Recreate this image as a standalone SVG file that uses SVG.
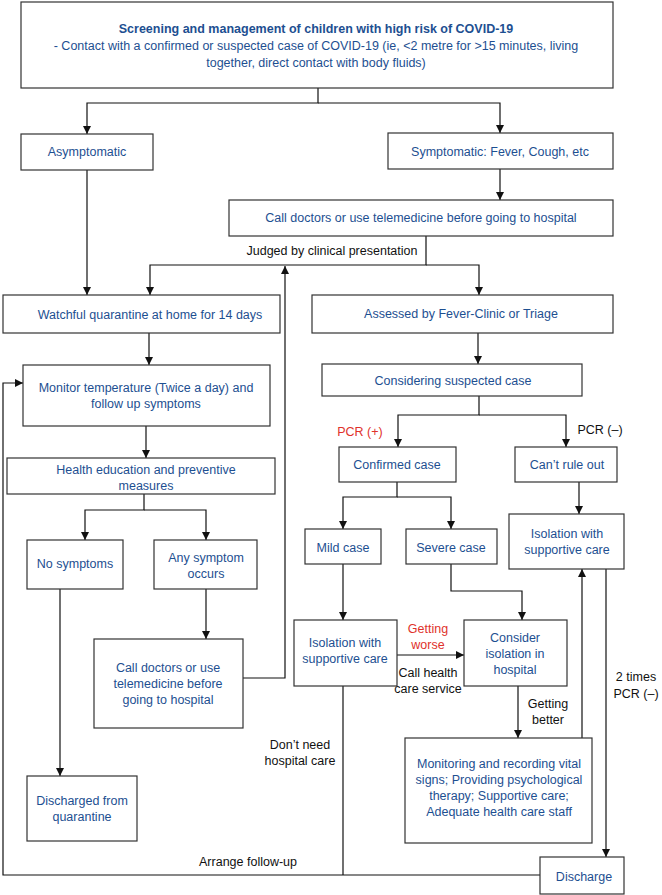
<svg xmlns="http://www.w3.org/2000/svg" width="662" height="895" viewBox="0 0 662 895">
<style>
.box{fill:#fff;stroke:#333;stroke-width:1.2}
.t{font-family:"Liberation Sans",Arial,Helvetica,sans-serif;font-size:12.5px;fill:#1d4f91;text-anchor:middle}
.b{font-weight:bold}
.lbl{font-family:"Liberation Sans",Arial,Helvetica,sans-serif;font-size:12.5px;fill:#111;text-anchor:middle}
.red{fill:#e0322b}
.c{fill:none;stroke:#111;stroke-width:1.2}
.a{marker-end:url(#arr)}
</style>
<defs>
<marker id="arr" viewBox="0 0 10 10" refX="10" refY="5" markerWidth="8" markerHeight="9" markerUnits="userSpaceOnUse" orient="auto">
<path d="M0,0 L10,5 L0,10 z" fill="#111"/>
</marker>
</defs>
<rect width="662" height="895" fill="#fff"/>
<g id="connectors">
<path class="c a" d="M318,88 V103 H87 V134"/>
<path class="c a" d="M318,103 H500 V133"/>
<path class="c a" d="M87,170 V295"/>
<path class="c a" d="M500,169 V200"/>
<path class="c a" d="M426,236 V265 H150 V295"/>
<path class="c a" d="M426,265 H479 V295"/>
<path class="c a" d="M149,333 V365"/>
<path class="c a" d="M146,426 V458"/>
<path class="c a" d="M144,494 V510 H85 V540"/>
<path class="c a" d="M144,510 H206 V540"/>
<path class="c a" d="M60,589 V776"/>
<path class="c a" d="M206,589 V639"/>
<path class="c a" d="M243,678 H285 V266"/>
<path class="c a" d="M478,333 V364"/>
<path class="c a" d="M479,396 V415 H398 V447"/>
<path class="c a" d="M479,415 H566 V447"/>
<path class="c a" d="M397,482 V497 H343 V529"/>
<path class="c a" d="M397,497 H451 V529"/>
<path class="c a" d="M579,482 V514"/>
<path class="c a" d="M343,564 V620"/>
<path class="c a" d="M451,564 V591 H522 V620"/>
<path class="c a" d="M397,655 H464"/>
<path class="c a" d="M518,686 V738"/>
<path class="c a" d="M582,738 V569"/>
<path class="c a" d="M606,569 V857"/>
<path class="c a" d="M540,875 H3 V383 H23"/>
<path class="c" d="M343,686 V875"/>
<text class="lbl" x="332" y="255">Judged by clinical presentation</text>
<text class="lbl red" x="360" y="436">PCR (+)</text>
<text class="lbl" x="600" y="434">PCR (–)</text>
<text class="lbl red" x="428" y="633">Getting</text>
<text class="lbl red" x="428" y="649">worse</text>
<text class="lbl" x="428" y="677">Call health</text>
<text class="lbl" x="428" y="693">care service</text>
<text class="lbl" x="548" y="708">Getting</text>
<text class="lbl" x="548" y="724">better</text>
<text class="lbl" x="636" y="681">2 times</text>
<text class="lbl" x="636" y="698">PCR (–)</text>
<text class="lbl" x="300" y="749">Don’t need</text>
<text class="lbl" x="300" y="765">hospital care</text>
<text class="lbl" x="248" y="866">Arrange follow-up</text>
</g>
<g id="n-top">
<rect class="box" x="21" y="2" width="592" height="86"/>
<text class="t b" x="316" y="33">Screening and management of children with high risk of COVID-19</text>
<text class="t" x="316" y="50">- Contact with a confirmed or suspected case of COVID-19 (ie, &lt;2 metre for &gt;15 minutes, living</text>
<text class="t" x="316" y="67">together, direct contact with body fluids)</text>
</g>
<g id="n-asym">
<rect class="box" x="21" y="134" width="132" height="36"/>
<text class="t" x="87" y="156">Asymptomatic</text>
</g>
<g id="n-sym">
<rect class="box" x="388" y="133" width="225" height="36"/>
<text class="t" x="500" y="156">Symptomatic: Fever, Cough, etc</text>
</g>
<g id="n-call1">
<rect class="box" x="229" y="200" width="384" height="36"/>
<text class="t" x="421" y="222">Call doctors or use telemedicine before going to hospital</text>
</g>
<g id="n-watch">
<rect class="box" x="3" y="295" width="277" height="38"/>
<text class="t" x="150" y="319">Watchful quarantine at home for 14 days</text>
</g>
<g id="n-assess">
<rect class="box" x="312" y="295" width="301" height="38"/>
<text class="t" x="461" y="318">Assessed by Fever-Clinic or Triage</text>
</g>
<g id="n-monitor">
<rect class="box" x="23" y="365" width="247" height="61"/>
<text class="t" x="146" y="392">Monitor temperature (Twice a day) and</text>
<text class="t" x="146" y="408">follow up symptoms</text>
</g>
<g id="n-consider-susp">
<rect class="box" x="322" y="364" width="260" height="32"/>
<text class="t" x="453" y="385">Considering suspected case</text>
</g>
<g id="n-health">
<rect class="box" x="7" y="458" width="268" height="36"/>
<text class="t" x="146" y="474">Health education and preventive</text>
<text class="t" x="146" y="490">measures</text>
</g>
<g id="n-confirmed">
<rect class="box" x="339" y="447" width="117" height="35"/>
<text class="t" x="397" y="469">Confirmed case</text>
</g>
<g id="n-cantrule">
<rect class="box" x="515" y="447" width="102" height="35"/>
<text class="t" x="567" y="469">Can’t rule out</text>
</g>
<g id="n-nosym">
<rect class="box" x="27" y="540" width="96" height="49"/>
<text class="t" x="75" y="568">No symptoms</text>
</g>
<g id="n-anysym">
<rect class="box" x="154" y="540" width="103" height="49"/>
<text class="t" x="206" y="562">Any symptom</text>
<text class="t" x="206" y="578">occurs</text>
</g>
<g id="n-mild">
<rect class="box" x="305" y="529" width="76" height="35"/>
<text class="t" x="343" y="552">Mild case</text>
</g>
<g id="n-severe">
<rect class="box" x="406" y="529" width="91" height="35"/>
<text class="t" x="451" y="552">Severe case</text>
</g>
<g id="n-iso-right">
<rect class="box" x="509" y="514" width="115" height="55"/>
<text class="t" x="567" y="538">Isolation with</text>
<text class="t" x="567" y="554">supportive care</text>
</g>
<g id="n-iso-mild">
<rect class="box" x="294" y="620" width="103" height="66"/>
<text class="t" x="345" y="647">Isolation with</text>
<text class="t" x="345" y="663">supportive care</text>
</g>
<g id="n-consider-hosp">
<rect class="box" x="464" y="620" width="103" height="66"/>
<text class="t" x="515" y="642">Consider</text>
<text class="t" x="515" y="658">isolation in</text>
<text class="t" x="515" y="674">hospital</text>
</g>
<g id="n-call2">
<rect class="box" x="94" y="639" width="149" height="89"/>
<text class="t" x="168" y="672">Call doctors or use</text>
<text class="t" x="168" y="688">telemedicine before</text>
<text class="t" x="168" y="704">going to hospital</text>
</g>
<g id="n-monitoring">
<rect class="box" x="405" y="738" width="187" height="105"/>
<text class="t" x="499" y="768">Monitoring and recording vital</text>
<text class="t" x="499" y="784">signs; Providing psychological</text>
<text class="t" x="499" y="800">therapy; Supportive care;</text>
<text class="t" x="499" y="816">Adequate health care staff</text>
</g>
<g id="n-discharged">
<rect class="box" x="27" y="776" width="110" height="65"/>
<text class="t" x="82" y="805">Discharged from</text>
<text class="t" x="82" y="821">quarantine</text>
</g>
<g id="n-discharge">
<rect class="box" x="540" y="857" width="84" height="37"/>
<text class="t" x="584" y="881">Discharge</text>
</g>
</svg>
